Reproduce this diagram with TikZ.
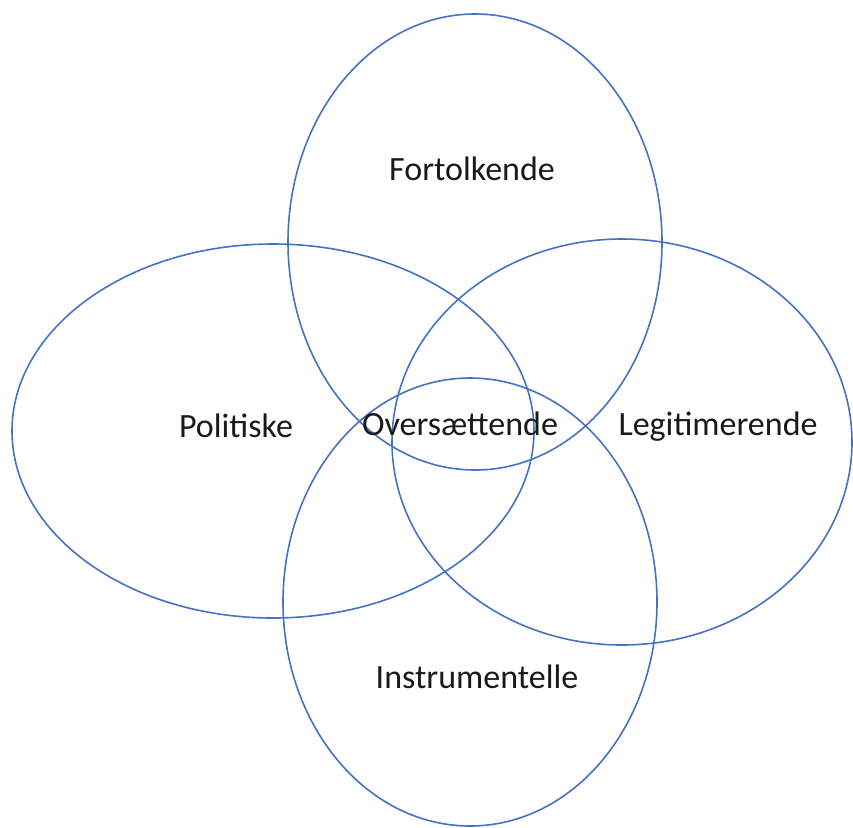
\documentclass[tikz,border=0pt]{standalone}
\usepackage{fontspec}
\setmainfont{Carlito}
\definecolor{ringblue}{HTML}{4472C4}
\begin{document}
\begin{tikzpicture}[x=1pt,y=-1pt,
  ring/.style={draw=ringblue,line width=1.6pt},
  lbl/.style={anchor=base,inner sep=0pt,font=\fontsize{34}{40}\selectfont,text=black!90}]
\useasboundingbox (0,0) rectangle (853,827);
\draw[ring] (475,242) ellipse [x radius=187, y radius=228];
\draw[ring] (273,431) ellipse [x radius=261, y radius=187];
\draw[ring] (622,442) ellipse [x radius=230, y radius=203];
\draw[ring] (470,602) ellipse [x radius=187, y radius=224];
\node[lbl] (fort) at (472,180) {Fortolkende};
\node[lbl] (pol) at (236,437) {Politiske};
\node[lbl] (over) at (460,435) {Oversættende};
\node[lbl] (leg) at (718,435) {Legitimerende};
\node[lbl] (inst) at (477,688) {Instrumentelle};
\end{tikzpicture}
\end{document}
